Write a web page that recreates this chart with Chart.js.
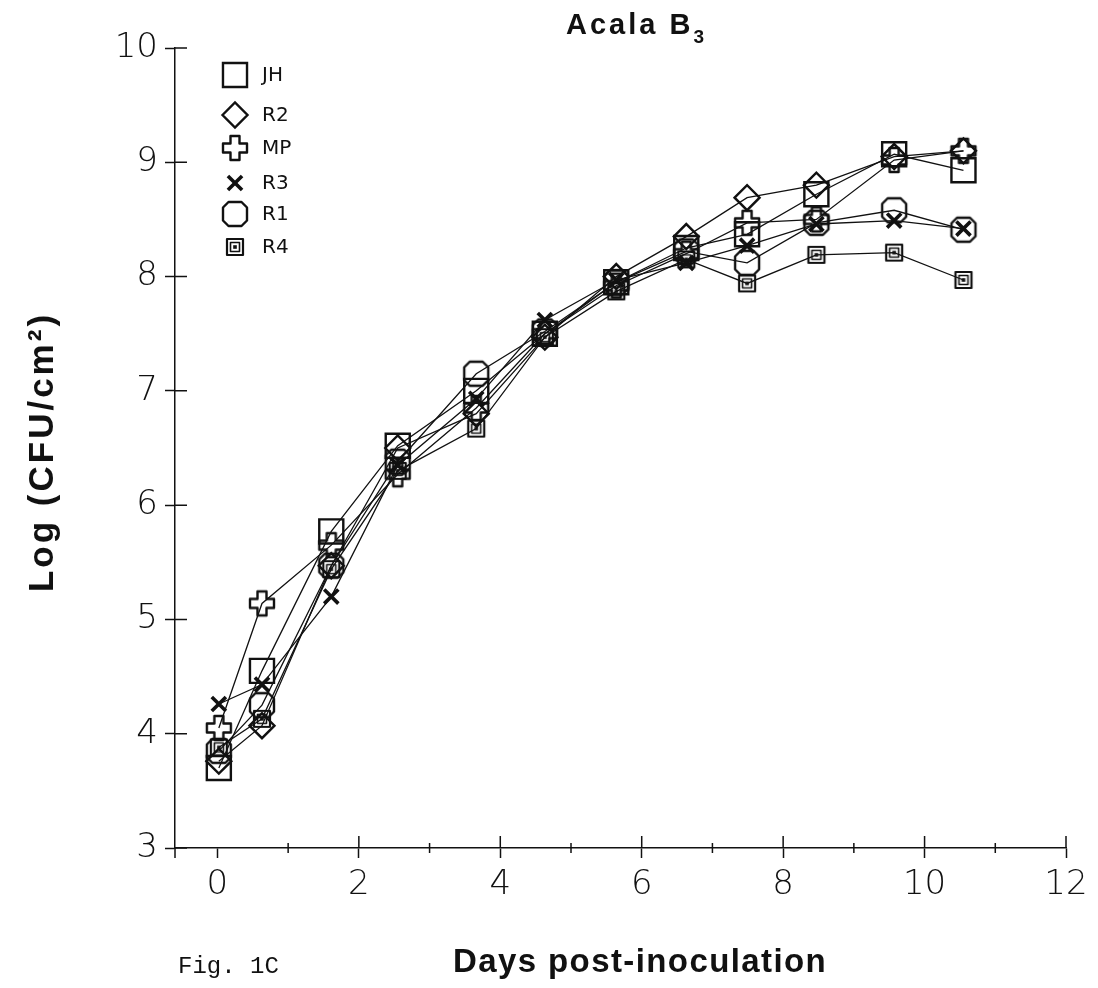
<!DOCTYPE html>
<html>
<head>
<meta charset="utf-8">
<script src="https://cdn.jsdelivr.net/npm/chart.js@4/dist/chart.umd.min.js"></script>
<style>
  body { margin: 0; background: #fff; }
  #wrap { width: 1098px; height: 988px; }
</style>
</head>
<body>
<div id="wrap"><canvas id="chart" width="1098" height="988"></canvas></div>
<script>
// days post-inoculation (sampling times)
const days = [0.02, 0.63, 1.61, 2.55, 3.66, 4.63, 5.64, 6.63, 7.49, 8.47, 9.57, 10.55];

// log CFU/cm2 per strain
const seriesNames = ['JH', 'R2', 'MP', 'R3', 'R1', 'R4'];
const jh = [3.70, 4.55, 5.77, 6.52, 7.00, 7.50, 7.95, 8.25, 8.37, 8.72, 9.07, 8.93];
const r2 = [3.76, 4.07, 5.47, 6.50, 6.80, 7.47, 8.00, 8.35, 8.69, 8.80, 9.05, 9.10];
const mp = [4.05, 5.14, 5.65, 6.27, 6.85, 7.50, 7.92, 8.20, 8.47, 8.50, 9.02, 9.10];
const r3 = [4.26, 4.43, 5.20, 6.35, 6.93, 7.62, 7.97, 8.12, 8.27, 8.46, 8.49, 8.42];
const r1 = [3.85, 4.25, 5.47, 6.38, 7.15, 7.52, 7.95, 8.22, 8.12, 8.47, 8.58, 8.41];
const r4 = [3.88, 4.13, 5.44, 6.30, 6.67, 7.47, 7.87, 8.15, 7.94, 8.19, 8.21, 7.97];

const xTicks = [0, 2, 4, 6, 8, 10, 12];
const xMinorTicks = [1, 3, 5, 7, 9, 11];
const yTicks = [3, 4, 5, 6, 7, 8, 9, 10];

const INK = '#111';

// marker drawings that chart.js has no built-in style for
function marker(size, draw) {
  const c = document.createElement('canvas');
  c.width = size;
  c.height = size;
  const g = c.getContext('2d');
  g.strokeStyle = INK;
  g.fillStyle = INK;
  g.lineJoin = 'round';
  draw(g, size / 2);
  return c;
}

const plusMarker = marker(30, (g, m) => {
  const a = 4.5, r = 12;
  g.lineWidth = 2.4;
  g.beginPath();
  g.moveTo(m - a, m - r); g.lineTo(m + a, m - r); g.lineTo(m + a, m - a);
  g.lineTo(m + r, m - a); g.lineTo(m + r, m + a); g.lineTo(m + a, m + a);
  g.lineTo(m + a, m + r); g.lineTo(m - a, m + r); g.lineTo(m - a, m + a);
  g.lineTo(m - r, m + a); g.lineTo(m - r, m - a); g.lineTo(m - a, m - a);
  g.closePath();
  g.stroke();
});

const octMarker = marker(30, (g, m) => {
  const r = 12, k = 5.5;
  g.lineWidth = 2.4;
  g.beginPath();
  g.moveTo(m - r + k, m - r); g.lineTo(m + r - k, m - r); g.lineTo(m + r, m - r + k);
  g.lineTo(m + r, m + r - k); g.lineTo(m + r - k, m + r); g.lineTo(m - r + k, m + r);
  g.lineTo(m - r, m + r - k); g.lineTo(m - r, m - r + k);
  g.closePath();
  g.stroke();
});

const nestMarker = marker(22, (g, m) => {
  g.lineWidth = 2.2;
  g.strokeRect(m - 8, m - 8, 16, 16);
  g.lineWidth = 1.6;
  g.strokeRect(m - 4.5, m - 4.5, 9, 9);
  g.fillRect(m - 1.8, m - 1.8, 3.6, 3.6);
});

const styles = [
  { pointStyle: 'rect', pointRadius: 17, pointBorderWidth: 2.4 },
  { pointStyle: 'rectRot', pointRadius: 12.5, pointBorderWidth: 2.4 },
  { pointStyle: plusMarker, pointRadius: 12, pointBorderWidth: 0 },
  { pointStyle: 'crossRot', pointRadius: 10, pointBorderWidth: 3.6 },
  { pointStyle: octMarker, pointRadius: 12, pointBorderWidth: 0 },
  { pointStyle: nestMarker, pointRadius: 8, pointBorderWidth: 0 }
];

const values = [jh, r2, mp, r3, r1, r4];
const datasets = values.map((vals, i) => Object.assign({
  label: seriesNames[i],
  data: vals.map((v, j) => ({ x: days[j], y: v })),
  borderColor: INK,
  borderWidth: 1.3,
  pointBorderColor: INK,
  pointBackgroundColor: 'rgba(0,0,0,0)',
  pointHoverRadius: 0,
  tension: 0,
  clip: false
}, styles[i]));

const tickFont = { family: '"DejaVu Sans", "Liberation Sans", sans-serif', size: 34, weight: 200 };

function spaced(ctx, px) {
  if ('letterSpacing' in ctx) ctx.letterSpacing = px + 'px';
}

// extra ticks, legend and captions
const decor = {
  id: 'decor',
  afterDraw(chart) {
    const ctx = chart.ctx;
    const xs = chart.scales.x, ys = chart.scales.y;
    const area = chart.chartArea;
    ctx.save();
    ctx.strokeStyle = INK;
    ctx.lineWidth = 1.5;
    ctx.beginPath();
    yTicks.forEach(v => {
      const py = ys.getPixelForValue(v);
      ctx.moveTo(area.left, py); ctx.lineTo(area.left + 12, py);
    });
    xTicks.slice(1).forEach(v => {
      const px = xs.getPixelForValue(v);
      ctx.moveTo(px, area.bottom); ctx.lineTo(px, area.bottom - 12);
    });
    xMinorTicks.forEach(v => {
      const px = xs.getPixelForValue(v);
      ctx.moveTo(px, area.bottom - 5); ctx.lineTo(px, area.bottom + 5);
    });
    ctx.moveTo(area.left, area.bottom); ctx.lineTo(area.left, area.bottom + 10);
    ctx.stroke();

    // legend
    const legendY = [75, 115, 148, 183, 214, 247];
    ctx.font = '20px "Liberation Sans Narrow", "DejaVu Sans", sans-serif';
    ctx.textBaseline = 'middle';
    chart.data.datasets.forEach((ds, i) => {
      const ly = legendY[i];
      ctx.strokeStyle = INK;
      ctx.fillStyle = 'rgba(0,0,0,0)';
      ctx.lineWidth = ds.pointBorderWidth;
      Chart.helpers.drawPoint(ctx, {
        pointStyle: ds.pointStyle, radius: ds.pointRadius, rotation: 0, borderWidth: ds.pointBorderWidth
      }, 235, ly);
      ctx.fillStyle = INK;
      ctx.fillText(ds.label, 262, ly + 1);
    });

    // captions
    ctx.fillStyle = INK;
    ctx.textBaseline = 'alphabetic';
    ctx.textAlign = 'left';
    ctx.font = 'bold 29px "Liberation Sans", Arial, sans-serif';
    spaced(ctx, 3);
    ctx.fillText('Acala B', 566, 34);
    const w = ctx.measureText('Acala B').width;
    ctx.font = 'bold 19px "Liberation Sans", Arial, sans-serif';
    spaced(ctx, 0);
    ctx.fillText('3', 566 + w, 43);

    ctx.font = 'bold 33px "Liberation Sans", Arial, sans-serif';
    spaced(ctx, 1.4);
    ctx.fillText('Days post-inoculation', 453, 972);

    ctx.font = '24px "Liberation Mono", "DejaVu Sans Mono", monospace';
    spaced(ctx, 0);
    ctx.fillText('Fig. 1C', 178, 973);

    ctx.translate(53, 452);
    ctx.rotate(-Math.PI / 2);
    ctx.textAlign = 'center';
    ctx.font = 'bold 35px "Liberation Sans", Arial, sans-serif';
    spaced(ctx, 3);
    ctx.fillText('Log (CFU/cm²)', 0, 0);
    ctx.restore();
  }
};

new Chart(document.getElementById('chart'), {
  type: 'line',
  data: { datasets },
  plugins: [decor],
  options: {
    responsive: false,
    animation: false,
    events: [],
    layout: { padding: { left: 0, top: 48, right: 32, bottom: 0 } },
    plugins: { legend: { display: false }, tooltip: { enabled: false }, title: { display: false } },
    scales: {
      x: {
        type: 'linear',
        min: -0.6,
        max: 12,
        afterBuildTicks: s => { s.ticks = xTicks.map(v => ({ value: v })); },
        afterFit: s => { s.height = 140; },
        grid: { drawOnChartArea: false, tickLength: 10, tickColor: INK, tickWidth: 1.5 },
        border: { color: INK, width: 1.5 },
        ticks: { color: INK, font: tickFont, padding: 7, maxRotation: 0 }
      },
      y: {
        type: 'linear',
        min: 3,
        max: 10,
        afterBuildTicks: s => { s.ticks = yTicks.map(v => ({ value: v })); },
        afterFit: s => { s.width = 175; },
        grid: { drawOnChartArea: false, tickLength: 10, tickColor: INK, tickWidth: 1.5 },
        border: { color: INK, width: 1.5 },
        ticks: { color: INK, font: tickFont, padding: 7 }
      }
    }
  }
});
</script>
</body>
</html>
